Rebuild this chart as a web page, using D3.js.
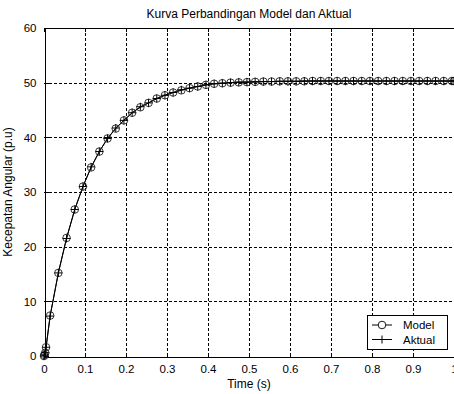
<!DOCTYPE html>
<html>
<head>
<meta charset="utf-8">
<script src="https://cdn.jsdelivr.net/npm/d3@7"></script>
<style>
  html, body { margin: 0; padding: 0; background: #fff; overflow: hidden; }
  svg { display: block; }
  text { font-family: "Liberation Sans", Arial, sans-serif; fill: #000; }
</style>
</head>
<body>
<svg id="chart" width="454" height="394"></svg>
<script>
// ---- data ----
const chartTitle = "Kurva Perbandingan Model dan Aktual";
const xLabel = "Time (s)";
const yLabel = "Kecepatan Angular (p.u)";
const xTicks = [0, 0.1, 0.2, 0.3, 0.4, 0.5, 0.6, 0.7, 0.8, 0.9, 1];
const yTicks = [0, 10, 20, 30, 40, 50, 60];
const seriesNames = ["Model", "Aktual"];

const timeValues = [0, 0.001, 0.003, 0.005, 0.015, 0.035, 0.055, 0.075, 0.095, 0.115,
  0.135, 0.155, 0.175, 0.195, 0.215, 0.235, 0.255, 0.275, 0.295, 0.315,
  0.335, 0.355, 0.375, 0.395, 0.415, 0.435, 0.455, 0.475, 0.495, 0.515,
  0.535, 0.555, 0.575, 0.595, 0.615, 0.635, 0.655, 0.675, 0.695, 0.715,
  0.735, 0.755, 0.775, 0.795, 0.815, 0.835, 0.855, 0.875, 0.895, 0.915,
  0.935, 0.955, 0.975, 0.995, 1.0];

const modelValues = [0, 0.2, 0.6, 1.6, 7.4, 15.2, 21.6, 26.8, 31.0, 34.5,
  37.4, 39.8, 41.6, 43.1, 44.5, 45.5, 46.3, 47.1, 47.7, 48.2,
  48.6, 49.0, 49.3, 49.6, 49.8, 49.9, 50.0, 50.05, 50.1, 50.15,
  50.2, 50.2, 50.25, 50.25, 50.25, 50.25, 50.3, 50.3, 50.3, 50.3,
  50.3, 50.3, 50.3, 50.3, 50.3, 50.3, 50.3, 50.3, 50.3, 50.3,
  50.3, 50.3, 50.3, 50.3, 50.3];

const aktualValues = [0, 0.2, 0.6, 1.6, 7.3, 15.2, 21.5, 26.8, 31.0, 34.6,
  37.4, 39.8, 41.7, 43.1, 44.5, 45.6, 46.3, 47.1, 47.7, 48.2,
  48.7, 49.0, 49.3, 49.6, 49.8, 49.9, 50.0, 50.1, 50.1, 50.15,
  50.2, 50.2, 50.25, 50.25, 50.25, 50.3, 50.3, 50.3, 50.3, 50.3,
  50.3, 50.3, 50.3, 50.3, 50.3, 50.3, 50.3, 50.3, 50.3, 50.3,
  50.3, 50.3, 50.3, 50.3, 50.3];

// ---- layout ----
const W = 454, H = 394;
const margin = { left: 44, right: 0, top: 28, bottom: 38 };
const svg = d3.select("#chart");

const x = d3.scaleLinear().domain([0, 1]).range([margin.left, W - margin.right]);
const y = d3.scaleLinear().domain([0, 60]).range([H - margin.bottom, margin.top]);

const x0 = x.range()[0], x1 = x.range()[1];
const y0 = y.range()[0], y1 = y.range()[1];

// grid
const grid = svg.append("g").attr("stroke", "#000").attr("stroke-width", 1)
  .attr("stroke-dasharray", "3,2").attr("shape-rendering", "crispEdges");
grid.selectAll("line.vx").data(xTicks.filter(d => d > 0 && d < 1)).join("line")
  .attr("x1", d => Math.round(x(d)) + 0.5).attr("x2", d => Math.round(x(d)) + 0.5)
  .attr("y1", y1).attr("y2", y0);
grid.selectAll("line.hy").data(yTicks.filter(d => d > 0 && d < 60)).join("line")
  .attr("x1", x0).attr("x2", x1)
  .attr("y1", d => Math.round(y(d)) + 0.5).attr("y2", d => Math.round(y(d)) + 0.5);

// axes
const xAxis = d3.axisBottom(x).tickValues(xTicks).tickSizeInner(-4).tickSizeOuter(0)
  .tickPadding(8).tickFormat(d3.format("~g"));
const yAxis = d3.axisLeft(y).tickValues(yTicks).tickSizeInner(-4).tickSizeOuter(0)
  .tickPadding(8).tickFormat(d3.format("~g"));

const gx = svg.append("g").attr("transform", `translate(0,${Math.round(y0) + 0.5})`).call(xAxis);
const gy = svg.append("g").attr("transform", `translate(${Math.round(x0) + 0.5},0)`).call(yAxis);
[gx, gy].forEach(g => {
  g.select(".domain").attr("stroke", "#000").attr("shape-rendering", "crispEdges");
  g.selectAll(".tick line").attr("stroke", "#000").attr("shape-rendering", "crispEdges");
  g.selectAll(".tick text").attr("font-size", 11.5).attr("font-family", "Liberation Sans, Arial, sans-serif").attr("fill", "#000");
});
// top box line
svg.append("line").attr("x1", x0).attr("x2", x1)
  .attr("y1", Math.round(y1) + 0.5).attr("y2", Math.round(y1) + 0.5)
  .attr("stroke", "#000").attr("shape-rendering", "crispEdges");
// top ticks
svg.append("g").selectAll("line").data(xTicks).join("line")
  .attr("x1", d => Math.round(x(d)) + 0.5).attr("x2", d => Math.round(x(d)) + 0.5)
  .attr("y1", y1).attr("y2", y1 + 4).attr("stroke", "#000").attr("shape-rendering", "crispEdges");

// lines
const lineGen = d3.line().x((d, i) => x(timeValues[i])).y(d => y(d));
svg.append("path").datum(aktualValues).attr("d", lineGen)
  .attr("fill", "none").attr("stroke", "#000").attr("stroke-width", 1);
svg.append("path").datum(modelValues).attr("d", lineGen)
  .attr("fill", "none").attr("stroke", "#000").attr("stroke-width", 1);

// markers
const mk = 4;
svg.append("g").selectAll("circle").data(modelValues).join("circle")
  .attr("cx", (d, i) => x(timeValues[i])).attr("cy", d => y(d)).attr("r", 3.8)
  .attr("fill", "none").attr("stroke", "#222").attr("stroke-width", 0.9);
const plus = svg.append("g").attr("stroke", "#000").attr("stroke-width", 1);
aktualValues.forEach((d, i) => {
  const cx = x(timeValues[i]), cy = y(d);
  plus.append("line").attr("x1", cx - mk).attr("x2", cx + mk).attr("y1", cy).attr("y2", cy);
  plus.append("line").attr("x1", cx).attr("x2", cx).attr("y1", cy - mk).attr("y2", cy + mk);
});

// title and labels
svg.append("text").attr("x", (x0 + x1) / 2).attr("y", 18).attr("text-anchor", "middle")
  .attr("font-size", 12).text(chartTitle);
svg.append("text").attr("x", (x0 + x1) / 2).attr("y", 388).attr("text-anchor", "middle")
  .attr("font-size", 12).text(xLabel);
svg.append("text").attr("transform", `translate(12,${(y0 + y1) / 2}) rotate(-90)`)
  .attr("text-anchor", "middle").attr("font-size", 12).text(yLabel);

// legend
const lg = svg.append("g");
lg.append("rect").attr("x", 367.5).attr("y", 315.5).attr("width", 80).attr("height", 34)
  .attr("fill", "#fff").attr("stroke", "#000").attr("shape-rendering", "crispEdges");
const rows = [{ name: seriesNames[0], yy: 325 }, { name: seriesNames[1], yy: 339.5 }];
rows.forEach((r, i) => {
  lg.append("line").attr("x1", 372).attr("x2", 392).attr("y1", r.yy).attr("y2", r.yy)
    .attr("stroke", "#000");
  if (i === 0) {
    lg.append("circle").attr("cx", 382).attr("cy", r.yy).attr("r", 3.8)
      .attr("fill", "#fff").attr("stroke", "#000").attr("stroke-width", 0.9);
  } else {
    lg.append("line").attr("x1", 382).attr("x2", 382).attr("y1", r.yy - mk).attr("y2", r.yy + mk)
      .attr("stroke", "#000");
  }
  lg.append("text").attr("x", 403).attr("y", r.yy + 4).attr("font-size", 11.5).text(r.name);
});
</script>
</body>
</html>
